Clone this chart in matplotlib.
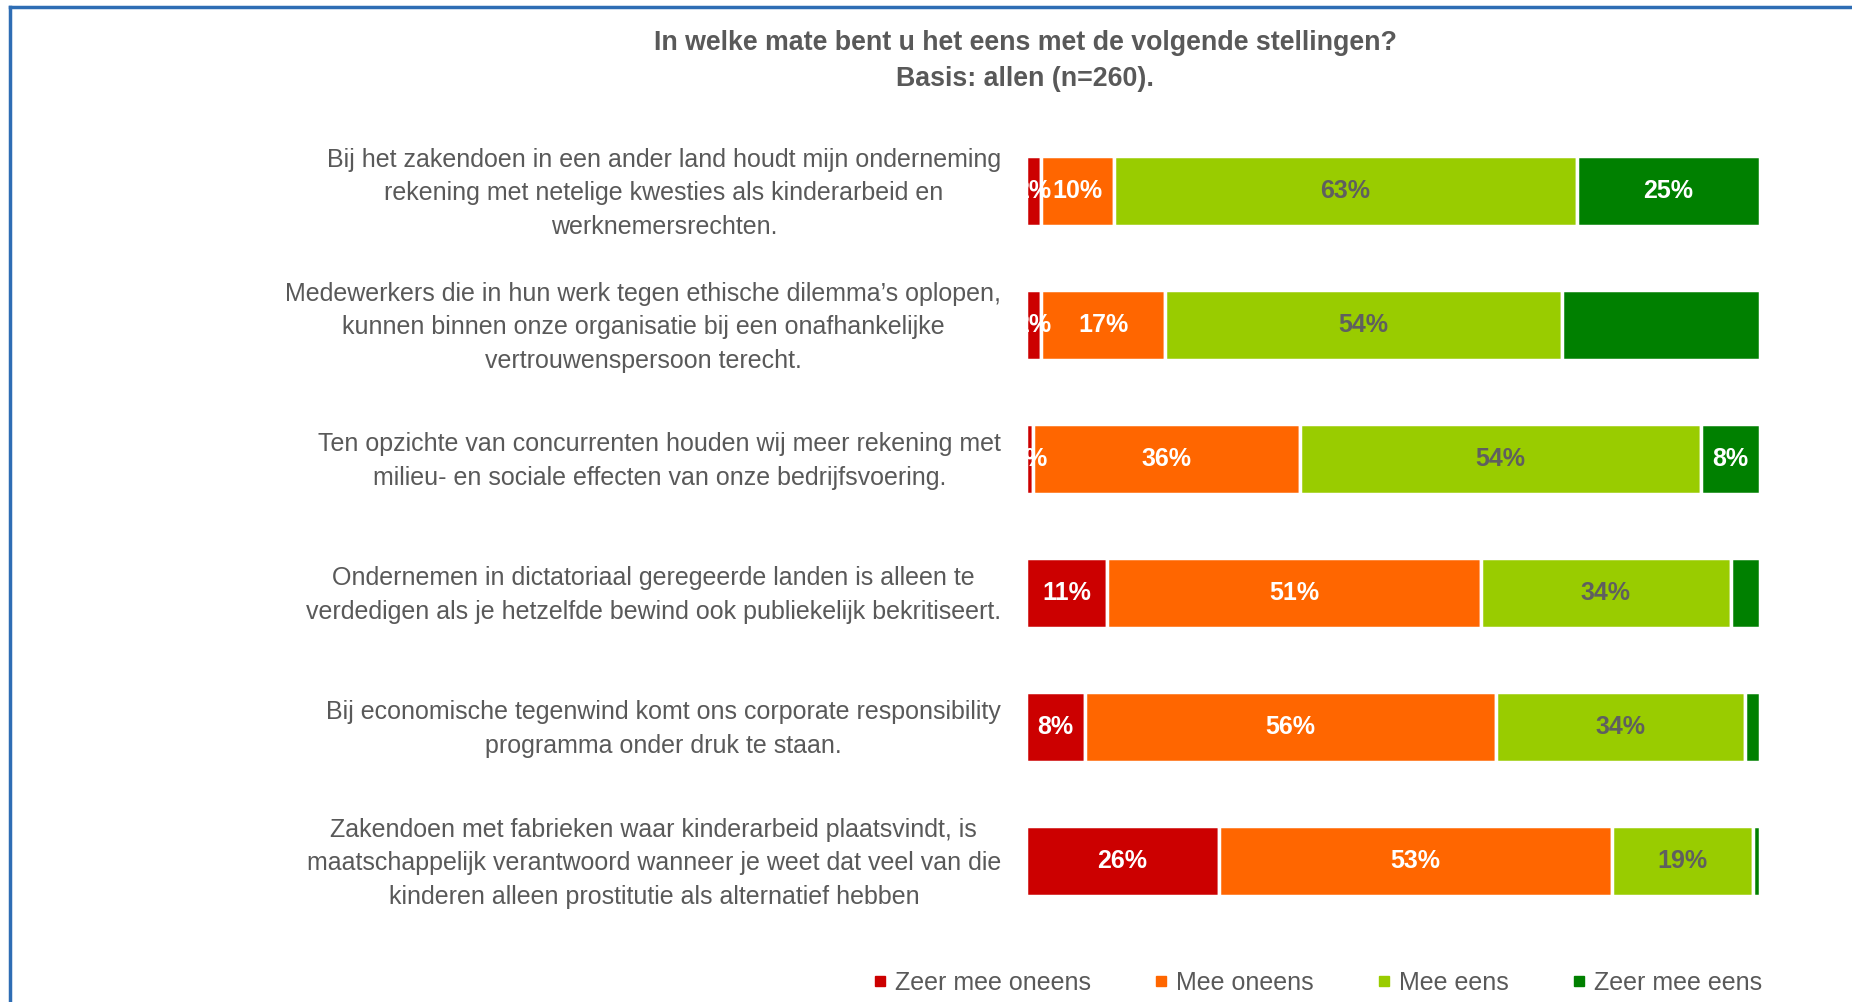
import matplotlib
matplotlib.use("Agg")
import numpy as np
import matplotlib.pyplot as plt
from matplotlib.lines import Line2D

plt.rcParams['font.family'] = ['Liberation Sans', 'DejaVu Sans']

title = "In welke mate bent u het eens met de volgende stellingen?\nBasis: allen (n=260)."

statements = [
    "Bij het zakendoen in een ander land houdt mijn onderneming\nrekening met netelige kwesties als kinderarbeid en\nwerknemersrechten.",
    "Medewerkers die in hun werk tegen ethische dilemma\u2019s oplopen,\nkunnen binnen onze organisatie bij een onafhankelijke\nvertrouwenspersoon terecht.",
    "Ten opzichte van concurrenten houden wij meer rekening met\nmilieu- en sociale effecten van onze bedrijfsvoering.",
    "Ondernemen in dictatoriaal geregeerde landen is alleen te\nverdedigen als je hetzelfde bewind ook publiekelijk bekritiseert.",
    "Bij economische tegenwind komt ons corporate responsibility\nprogramma onder druk te staan.",
    "Zakendoen met fabrieken waar kinderarbeid plaatsvindt, is\nmaatschappelijk verantwoord wanneer je weet dat veel van die\nkinderen alleen prostitutie als alternatief hebben",
]

series = ["Zeer mee oneens", "Mee oneens", "Mee eens", "Zeer mee eens"]
zeer_oneens = [2, 2, 1, 11, 8, 26]
oneens = [10, 17, 36, 51, 56, 53]
eens = [63, 54, 54, 34, 34, 19]
zeer_eens = [25, 27, 8, 4, 2, 1]
# which labels are shown in the reference (some are hidden)
show_zeer_eens = [True, False, True, False, False, False]

colors = ["#CC0000", "#FF6600", "#99CC00", "#008000"]
label_colors = ["white", "white", "#5F5F5F", "white"]

fig = plt.figure(figsize=(18.52, 10.02), dpi=100)
ax = fig.add_axes([1026 / 1852, 1 - 928 / 1002, (1760 - 1026) / 1852, (928 - 124) / 1002])

y = np.arange(len(statements))
data = np.array([zeer_oneens, oneens, eens, zeer_eens], dtype=float)
totals = data.sum(axis=0)
left = np.zeros(len(statements))
for k in range(len(series)):
    vals = data[k]
    widths = vals / totals * 100  # 100% stacked
    ax.barh(y, widths, left=left, height=0.52, color=colors[k], edgecolor="white",
            linewidth=2.5, label=series[k])
    for i, v in enumerate(vals):
        if k == 3 and not show_zeer_eens[i]:
            continue
        ax.text(left[i] + widths[i] / 2, y[i], f"{int(v)}%", ha="center", va="center",
                color=label_colors[k], fontsize=18, fontweight="bold")
    left += widths

ax.set_xlim(0, 100)
ax.set_ylim(len(statements) - 0.5, -0.5)
ax.axis("off")

for i, s in enumerate(statements):
    ax.text(-25 / 734 * 100, y[i] + 0.015, s, ha="right", va="center", multialignment="center",
            fontsize=18, color="#595959", linespacing=1.5)

fig.text(1025 / 1852, 1 - 61 / 1002, title, ha="center", va="center", fontsize=19.3,
         fontweight="bold", color="#595959", linespacing=1.45)

handles = [Line2D([], [], marker="s", linestyle="none", markersize=7, color=c) for c in colors]
fig.legend(handles, series, loc="center", bbox_to_anchor=(1316 / 1852, 1 - 983 / 1002), ncol=4,
           frameon=False, fontsize=18, handletextpad=0.2, columnspacing=2.4, labelcolor="#595959",
           handlelength=0.8)

# border lines (top and left)
fig.add_artist(Line2D([10 / 1852, 1], [1 - 7 / 1002, 1 - 7 / 1002], color="#2E6DB4", lw=2.5,
                      transform=fig.transFigure))
fig.add_artist(Line2D([10 / 1852, 10 / 1852], [0, 1 - 7 / 1002], color="#2E6DB4", lw=2.5,
                      transform=fig.transFigure))

fig.savefig("out.png", dpi=100, facecolor="white")
